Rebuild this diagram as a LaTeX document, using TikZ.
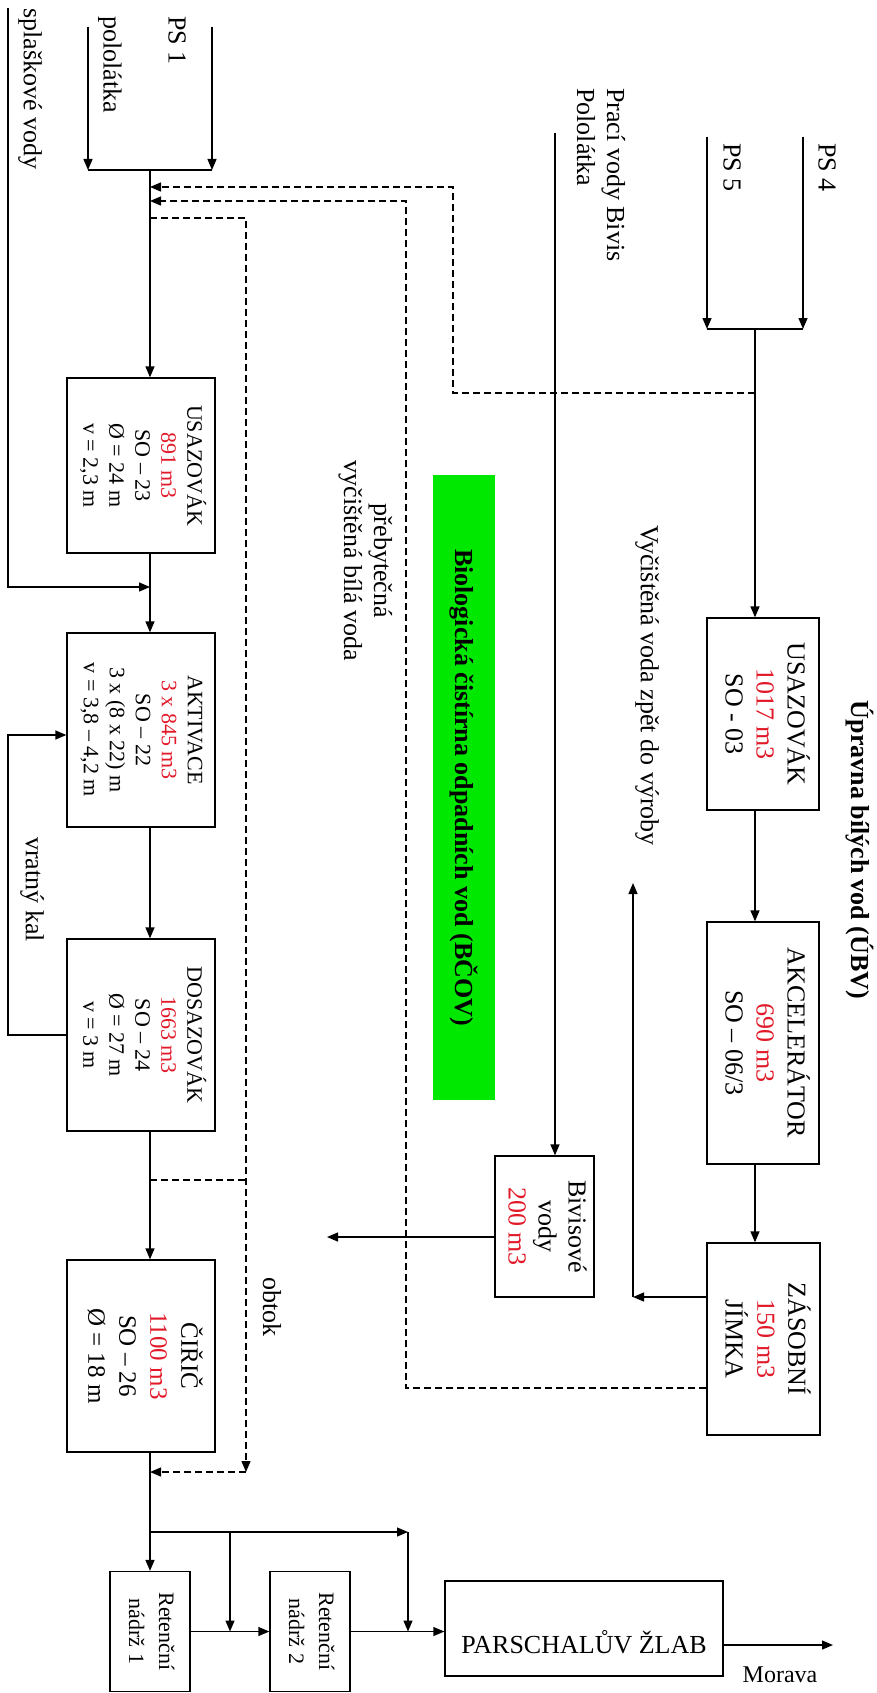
\documentclass[tikz,border=0pt]{standalone}
\usepackage{fontspec}
\setmainfont{Liberation Serif}
\usetikzlibrary{arrows.meta}
\definecolor{vred}{RGB}{225,25,40}
\definecolor{bgreen}{RGB}{0,232,0}
\newcommand{\rl}[1]{\rotatebox{-90}{#1}}
\newcommand{\rb}[1]{\rotatebox{-90}{\begin{tabular}{@{}c@{}}#1\end{tabular}}}
\newcommand{\rbl}[1]{\rotatebox{-90}{\begin{tabular}{@{}l@{}}#1\end{tabular}}}
\newcommand{\fsA}{\fontsize{26}{30}\selectfont}
\newcommand{\fsB}{\fontsize{22}{26}\selectfont}
\newcommand{\fsC}{\fontsize{25}{31}\selectfont}
\newcommand{\fsD}{\fontsize{26}{31}\selectfont}
\newcommand{\fsE}{\fontsize{22}{30}\selectfont}
\newcommand{\rd}[1]{\textcolor{vred}{#1}}
\begin{document}
\begin{tikzpicture}[x=1pt,y=-1pt,
  box/.style={draw, line width=1.3pt, inner sep=0pt, anchor=center},
  lbl/.style={inner sep=0pt, font=\fsA},
  arr/.style={line width=1.3pt, -{Triangle[length=11pt,width=9pt]}},
  ln/.style={line width=1.3pt},
  dsh/.style={line width=1.2pt, dash pattern=on 7pt off 4pt},
]
\path[use as bounding box] (0,0) rectangle (877,1693);

% ---------- boxes: left column (BCOV) ----------
\node[box, minimum width=148, minimum height=175, font=\fsB] (u1) at (141,465.5)
  {\rb{USAZOVÁK\\\rd{891 m3}\\SO – 23\\Ø = 24 m\\v = 2,3 m}};
\node[box, minimum width=148, minimum height=194, font=\fsB] (a1) at (141,730)
  {\rb{AKTIVACE\\\rd{3 x 845 m3}\\SO – 22\\3 x (8 x 22) m\\v = 3,8 – 4,2 m}};
\node[box, minimum width=148, minimum height=192, font=\fsB] (d1) at (141,1035)
  {\rb{DOSAZOVÁK\\\rd{1663 m3}\\SO – 24\\Ø = 27 m\\v = 3 m}};
\node[box, minimum width=148, minimum height=192, font=\fsC] (c1) at (141,1356)
  {\rb{ČIŘIČ\\\rd{1100 m3}\\SO – 26\\Ø = 18 m}};
\node[box, minimum width=80, minimum height=120, font=\fsE] (r1) at (150,1631.5)
  {\rb{Retenční\\nádrž 1}};
\node[box, minimum width=80, minimum height=120, font=\fsE] (r2) at (310,1631.5)
  {\rb{Retenční\\nádrž 2}};
\node[box, minimum width=278, minimum height=95, font=\fsA] (p) at (584,1628.5)
  {\raisebox{-25pt}[0pt][0pt]{PARSCHALŮV ŽLAB}};

% ---------- boxes: right column (UBV) ----------
\node[box, minimum width=112, minimum height=192, font=\fsD] (u2) at (763,714)
  {\rb{USAZOVÁK\\\rd{1017 m3}\\SO - 03}};
\node[box, minimum width=112, minimum height=242, font=\fsD] (ak) at (763,1043)
  {\rb{AKCELERÁTOR\\\rd{690 m3}\\SO – 06/3}};
\node[box, minimum width=113, minimum height=192, font=\fsD] (zj) at (763.5,1339)
  {\rb{ZÁSOBNÍ\\\rd{150 m3}\\JÍMKA}};
\node[box, minimum width=99, minimum height=141, font=\fsA] (bv) at (544.5,1226.5)
  {\rb{Bivisové\\vody\\\rd{200 m3}}};

% ---------- green label ----------
\node[fill=bgreen, minimum width=62, minimum height=625, inner sep=0pt, font=\fsA] (bcov) at (464,787.5)
  {\rl{\bfseries Biologická čistírna odpadních vod (BČOV)}};

% ---------- labels ----------
\node[lbl, anchor=north] (tsp) at (30,8) {\rl{splaškové vody}};
\node[lbl, anchor=north] (tps1) at (177,16) {\rl{PS 1}};
\node[lbl, anchor=north] (tpol) at (110,16) {\rl{pololátka}};
\node[lbl, anchor=north] (tps4) at (827,143) {\rl{PS 4}};
\node[lbl, anchor=north] (tps5) at (732,143) {\rl{PS 5}};
\node[lbl, anchor=north] (tbiv) at (598,88) {\rbl{Prací vody Bivis\\Pololátka}};
\node[lbl] (tubv) at (860,850) {\rl{\bfseries Úpravna bílých vod (ÚBV)}};
\node[lbl] (tvyc) at (647,685.5) {\rl{Vyčištěná voda zpět do výroby}};
\node[lbl] (tpreb) at (365,561) {\rb{přebytečná\\vyčištěná bílá voda}};
\node[lbl] (tobt) at (272,1307) {\rl{obtok}};
\node[lbl] (tvk) at (32,889.5) {\rl{vratný kal}};
\node[lbl, font=\fontsize{24}{28}\selectfont] (tmor) at (780,1675) {Morava};

% ---------- coordinates ----------
\coordinate (m) at (150,170);
\coordinate (pl) at (88,27);
\coordinate (ps1) at (212,27);
\coordinate (sp) at (8,8);
\coordinate (spc) at (8,587);
\coordinate (vk) at (8,735);
\coordinate (ob) at (246,218);
\coordinate (obe) at (246,1472);
\coordinate (obj) at (0,1180);
\coordinate (br) at (150,1532);
\coordinate (br1) at (230,1532);
\coordinate (br2) at (408,1532);
\coordinate (mor) at (833,1645);
\coordinate (ps4) at (803,137);
\coordinate (ps5) at (707,137);
\coordinate (j2) at (755,329);
\coordinate (da) at (755,393);
\coordinate (dac) at (453,187);
\coordinate (dby) at (0,1388);
\coordinate (dbc) at (406,201);
\coordinate (ret) at (633,1297);
\coordinate (rettop) at (633,883);
\coordinate (bvin) at (555,133);
\coordinate (bvout) at (327,1237);

% ---------- left flow ----------
\draw[arr] (pl) -- (pl |- m);
\draw[arr] (ps1) -- (ps1 |- m);
\draw[ln] (pl |- m) -- (ps1 |- m);
\draw[arr] (m) -- (u1.north -| m);
\draw[arr] (sp) |- (m |- spc);
\draw[arr] (u1.south -| m) -- (a1.north -| m);
\draw[arr] (a1.south -| m) -- (d1.north -| m);
\draw[arr] (d1.west) -| (vk) -- (a1.west |- vk);
\draw[arr] (d1.south -| m) -- (c1.north -| m);
\draw[arr] (c1.south -| m) -- (r1.north);
\draw[arr] (br) -- (br2);
\draw[arr] (br2) -- (br2 |- r2.center);
\draw[arr] (br1) -- (br1 |- r1.center);
\draw[arr] (r1.east) -- (r2.west);
\draw[arr] (r2.east) -- (p.west |- r2.center);
\draw[arr] (p.east |- mor) -- (mor);

% obtok (dashed)
\draw[dsh,arr] (m |- ob) -- (ob) -- (obe);
\draw[dsh,arr] (obe) -- (m |- obe);
\draw[dsh] (m |- obj) -- (ob |- obj);

% ---------- right flow ----------
\draw[arr] (ps4) -- (ps4 |- j2);
\draw[arr] (ps5) -- (ps5 |- j2);
\draw[ln] (ps5 |- j2) -- (ps4 |- j2);
\draw[arr] (j2) -- (j2 |- u2.north);
\draw[arr] (u2.south -| j2) -- (ak.north -| j2);
\draw[arr] (ak.south -| j2) -- (zj.north -| j2);
\draw[arr] (zj.west |- ret) -- (ret);
\draw[arr] (ret) -- (rettop);
\draw[arr] (bvin) -- (bvin |- bv.north);
\draw[arr] (bv.west |- bvout) -- (bvout);

% returns of cleaned water (dashed)
\draw[dsh,arr] (da) -| (dac) -- (m |- dac);
\draw[dsh,arr] (zj.west |- dby) -| (dbc) -- (m |- dbc);
\end{tikzpicture}
\end{document}
